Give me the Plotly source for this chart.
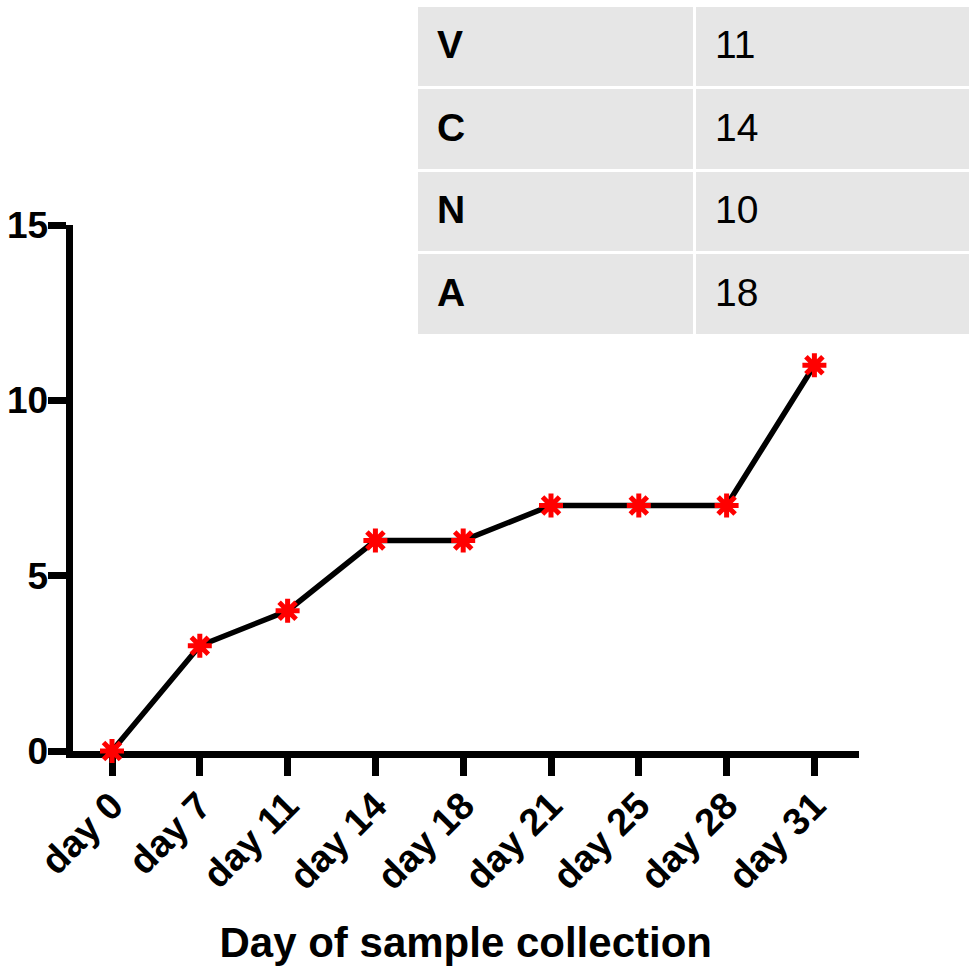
import plotly.graph_objects as go

days = ["day 0", "day 7", "day 11", "day 14", "day 18", "day 21", "day 25", "day 28", "day 31"]
counts = [0, 3, 4, 6, 6, 7, 7, 7, 11]
y_ticks = [0, 5, 10, 15]
table_labels = ["V", "C", "N", "A"]
table_values = [11, 14, 10, 18]

W, H = 970, 966
FONT = "Liberation Sans, Arial, sans-serif"

fig = go.Figure()

fig.add_trace(go.Scatter(
    x=list(range(len(days))), y=counts,
    mode="lines+markers",
    line=dict(color="black", width=5.5),
    marker=dict(symbol="asterisk-open", size=20, color="red",
                line=dict(color="red", width=5)),
    cliponaxis=False,
    showlegend=False,
))

# table cell backgrounds
fig.add_trace(go.Table(
    domain=dict(x=[416 / W, 1.0], y=[1 - 335 / H, 1 - 5 / H]),
    columnwidth=[278, 276],
    header=dict(values=["", ""], height=0, fill_color="rgba(0,0,0,0)",
                line=dict(width=0)),
    cells=dict(
        values=[["" for _ in table_labels], ["" for _ in table_values]],
        height=82.5,
        fill_color="#e6e6e6",
        line=dict(color="white", width=3),
    ),
))

# table text
dx, dy = 13, 10
fig.add_trace(go.Table(
    domain=dict(x=[(416 + dx) / W, 1.0], y=[1 - (335 + dy) / H, 1 - (5 + dy) / H]),
    columnwidth=[278, 276 - dx],
    header=dict(values=["", ""], height=0, fill_color="rgba(0,0,0,0)",
                line=dict(width=0)),
    cells=dict(
        values=[["<b>" + s + "</b>" for s in table_labels],
                ["<span>" + str(v) + "</span>" for v in table_values]],
        height=82.5,
        fill_color="rgba(0,0,0,0)",
        line=dict(color="rgba(0,0,0,0)", width=0),
        align="left",
        font=dict(family=FONT, size=39, color="black"),
    ),
))

fig.update_layout(
    width=W, height=H,
    margin=dict(l=0, r=0, t=0, b=0),
    paper_bgcolor="white", plot_bgcolor="white",
    font=dict(family=FONT, color="black"),
    xaxis=dict(
        domain=[72.5 / W, 859 / W],
        range=[-0.45, 8.508],
        tickmode="array",
        tickvals=list(range(len(days))),
        ticktext=days,
        tickangle=-45,
        tickfont=dict(family=FONT, size=38, weight="bold", color="black"),
        ticks="outside", ticklen=18, tickwidth=7, tickcolor="black",
        ticklabelstandoff=-8,
        showline=True, linewidth=7, linecolor="black",
        showgrid=False, zeroline=False,
        layer="below traces",
        automargin=False,
        title=dict(text="Day of sample collection",
                   font=dict(family=FONT, size=42, weight="bold", color="black"),
                   standoff=36),
    ),
    yaxis=dict(
        domain=[1 - 751 / H, 1 - 225 / H],
        range=[0, 15],
        tickmode="array",
        tickvals=y_ticks,
        ticktext=[str(v) for v in y_ticks],
        tickfont=dict(family=FONT, size=37, weight="bold", color="black"),
        ticks="outside", ticklen=18, tickwidth=7, tickcolor="black",
        ticklabelstandoff=-8,
        showline=True, linewidth=7, linecolor="black",
        showgrid=False, zeroline=False,
        layer="below traces",
        automargin=False,
    ),
)

fig.write_html("out.html", config={"displayModeBar": False},
               post_script="document.body.style.margin='0px';")
